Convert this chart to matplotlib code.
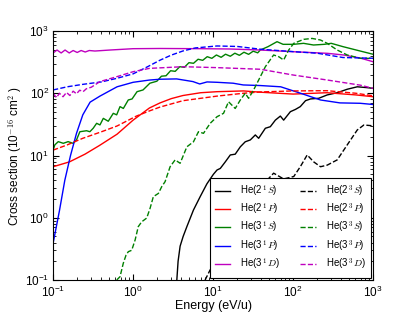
import numpy as np
import matplotlib
matplotlib.use("Agg")
import matplotlib.pyplot as plt

plt.rcParams["font.family"] = ["Liberation Sans", "DejaVu Sans"]
plt.rcParams["mathtext.fontset"] = "cm"
plt.rcParams["xtick.direction"] = "in"
plt.rcParams["ytick.direction"] = "in"
plt.rcParams["xtick.top"] = True
plt.rcParams["ytick.right"] = True

# singlet states (solid)
E_2_1S = [3.52, 3.65, 3.87, 4.22, 4.70, 5.68, 6.89, 8.36, 9.20, 10.1, 11.2, 12.3, 14.2, 16.4,
          18.9, 21.9, 25.2, 29.2, 33.7, 37.1, 45.0, 51.9, 60.0, 69.3, 76.2, 92.5, 107, 123,
          143, 165, 209, 267, 356, 475, 634, 846, 1000]
S_2_1S = [0.1, 0.2, 0.35, 0.5, 0.72, 1.33, 2.18, 3.5, 4.2, 5.0, 5.85, 6.2, 7.9, 10.2,
          10.5, 13.8, 16.6, 17.8, 21.4, 18.9, 27.4, 29, 37, 43, 37, 50.6, 55, 61,
          76, 81, 83, 94, 102, 116, 127, 123, 120]

E_2_1P = [0.1, 0.16, 0.25, 0.38, 0.63, 1.0, 1.6, 2.17, 3.0, 4.2, 7.0, 11.2, 24, 39, 100,
          265, 610, 1000]
S_2_1P = [6.6, 7.9, 10.5, 14.5, 22, 37, 58, 70, 82, 92, 102, 106, 109, 104, 97,
          102, 94, 88]

E_3_1S = [0.1, 0.105, 0.116, 0.134, 0.154, 0.178, 0.196, 0.216, 0.262, 0.288, 0.317, 0.35,
          0.385, 0.424, 0.489, 0.565, 0.623, 0.686, 0.755, 0.87, 0.97, 1.12, 1.33, 1.62,
          1.98, 2.26, 2.58, 2.94, 3.36, 3.83, 4.37, 4.99, 5.69, 6.49, 7.41, 8.45, 9.65,
          11.0, 12.6, 14.3, 16.4, 18.7, 21.3, 24.3, 27.8, 31.7, 36.1,
          38.9, 48.5, 63, 75, 101, 135, 180, 245, 300, 422, 690, 1000]
S_3_1S = [12.2, 14.8, 16.7, 15.7, 16.7, 15.7, 17.8, 24.1, 25, 24.1, 27.4, 32.9,
          31, 39.5, 35.5, 47.6, 45, 61, 57, 78, 81, 106, 113, 145,
          156, 188, 191, 230, 225, 267, 261, 310, 303, 352, 338, 387, 364,
          412, 378, 424, 393, 440, 407, 456, 422, 474, 446,
          495, 560, 674, 611, 611, 634, 596, 611, 634, 560, 477, 423]

E_3_1P = [0.1, 0.12, 0.14, 0.165, 0.196, 0.235, 0.29, 0.385, 0.63, 1.0, 1.6, 2.17, 3.5,
          5.6, 6.8, 8.4, 11.2, 17.8, 23.8, 39, 70, 124, 220, 385, 690, 1000]
S_3_1P = [0.39, 1.3, 4.0, 10, 22.7, 45, 72, 90, 127, 150, 163, 168, 170,
          154, 141, 152, 150, 145, 136, 133, 127, 100, 78, 70, 69, 66]

E_3_1D = [0.1, 0.112, 0.126, 0.141, 0.159, 0.178, 0.200, 0.224, 0.252, 0.283, 0.333, 0.514,
          1.0, 2.17, 6.89, 16.4, 38.9, 101, 269, 427, 690, 1000]
S_3_1D = [444, 495, 444, 495, 444, 486, 452, 486, 460, 486, 477, 495,
          520, 524, 520, 514, 495, 465, 438, 412, 368, 321]

# triplet states (dashed)
E_2_3S = [7.94, 9.18, 12.3, 16.4, 21.9, 29.2, 38.9, 47.2, 57.1, 76.2, 102, 123, 150, 181,
          220, 267, 356, 475, 634, 767, 1000]
S_2_3S = [0.1, 0.145, 0.25, 0.45, 0.85, 1.8, 2.79, 4.0, 5.2, 4.2, 4.6, 6.6, 10.2, 7.9,
          6.6, 7.0, 8.5, 14.8, 25.7, 30.9, 30]

E_2_3P = [0.1, 0.15, 0.235, 0.4, 0.63, 1.1, 1.6, 2.17, 4.2, 11.2, 24, 39, 100, 265, 610, 1000]
S_2_3P = [12.2, 14.8, 18.9, 24, 29.8, 43, 52, 60, 76, 90, 100, 105, 109, 110, 100, 91]

E_3_3S = [0.624, 0.686, 0.754, 0.815, 0.871, 0.96, 1.06, 1.16, 1.28, 1.48, 1.63, 1.79, 2.07,
          2.28, 2.51, 2.90, 3.35, 3.87, 4.70, 5.68, 6.56, 7.58, 9.20, 11.2, 13.5, 15.6, 18.9,
          21.9, 25.2, 27.8, 32.1, 37.1, 45.0, 57.1, 66.1, 76.2, 88.1, 102, 136, 173, 220,
          267, 356, 475, 695, 1000]
S_3_3S = [0.1, 0.113, 0.186, 0.25, 0.285, 0.30, 0.44, 0.72, 0.86, 0.99, 1.42, 2.18, 2.46,
          3.16, 3.8, 6.6, 8.5, 7.5, 13.8, 16.6, 24.1, 22.7, 32.9, 42, 47.6, 73, 57,
          78, 100, 83, 113, 163, 267, 412, 387, 342, 495, 634, 735, 760, 717,
          634, 495, 412, 364, 364]

E_3_3P = [0.1, 0.15, 0.235, 0.4, 0.63, 1.0, 1.5, 2.17, 3.0, 4.2, 6.0, 11.2, 20, 39, 101,
          200, 420, 1000]
S_3_3P = [113, 127, 139, 152, 174, 205, 265, 340, 410, 478, 535, 575, 565, 510, 466,
          440, 375, 365]

E_3_3D = [0.1, 0.11, 0.12, 0.133, 0.147, 0.162, 0.178, 0.196, 0.215, 0.237, 0.26, 0.3,
          0.385, 0.63, 1.0, 1.6, 4.2, 11.2, 39, 101, 269, 690, 1000]
S_3_3D = [100, 85, 100, 88, 103, 92, 108, 98, 112, 106, 118, 125,
          154, 185, 222, 251, 267, 258, 243, 196, 163, 135, 120]

SINGLETS = [
    (E_2_1S, S_2_1S, "k", r"He(2$\,^1S$)"),
    (E_2_1P, S_2_1P, "r", r"He(2$\,^1P$)"),
    (E_3_1S, S_3_1S, "g", r"He(3$\,^1S$)"),
    (E_3_1P, S_3_1P, "b", r"He(3$\,^1P$)"),
    (E_3_1D, S_3_1D, "m", r"He(3$\,^1D$)"),
]
TRIPLETS = [
    (E_2_3S, S_2_3S, "k", r"He(2$\,^3S$)"),
    (E_2_3P, S_2_3P, "r", r"He(2$\,^3P$)"),
    (E_3_3S, S_3_3S, "g", r"He(3$\,^3S$)"),
    (E_3_3P, S_3_3P, "b", r"He(3$\,^3P$)"),
    (E_3_3D, S_3_3D, "m", r"He(3$\,^3D$)"),
]

fig = plt.figure(figsize=(4.15, 3.12), dpi=100)
ax = fig.add_axes([0.128, 0.1026, 0.771, 0.798])

for e, s, c, lab in SINGLETS:
    ax.plot(e, s, color=c, ls="-", lw=1.0, label=lab)
for e, s, c, lab in TRIPLETS:
    ax.plot(e, s, color=c, ls="--", lw=1.0, label=lab)

ax.set_xscale("log")
ax.set_yscale("log")
ax.set_xlim(0.1, 1000)
ax.set_ylim(0.1, 1000)
ax.tick_params(axis="x", labelsize=8.5, pad=3.5)
ax.tick_params(axis="y", labelsize=8.5, pad=3)
ax.tick_params(which="major", length=4)
ax.tick_params(which="minor", length=2)
ax.set_xlabel("Energy (eV/u)", fontsize=9, labelpad=0)
ax.set_ylabel(r"Cross section (10$^{-16}$ cm$^2$ )", fontsize=8.5, labelpad=0.5)

leg = ax.legend(loc="lower right", ncol=2, fontsize=7, fancybox=False,
                edgecolor="k", framealpha=1, borderaxespad=0.25, borderpad=0.55,
                handlelength=1.6, handletextpad=1.0, columnspacing=2.1,
                labelspacing=0.3)
leg.get_frame().set_linewidth(0.8)

fig.savefig("out.png", dpi=100)
